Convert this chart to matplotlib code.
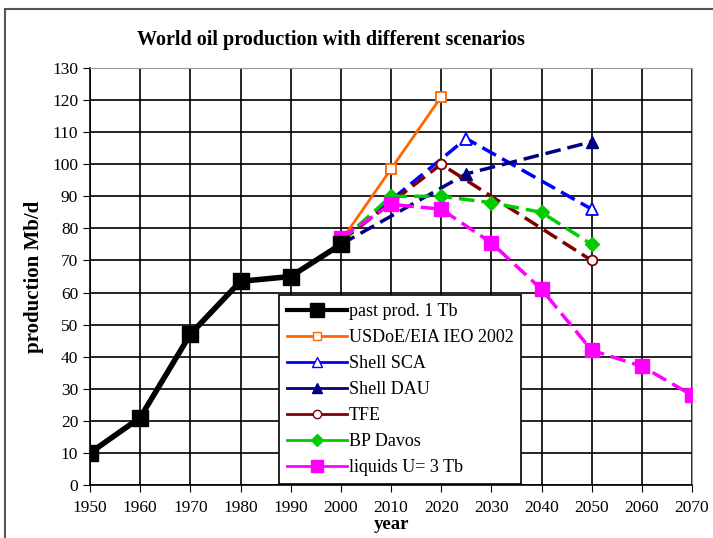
import matplotlib.pyplot as plt
from matplotlib.lines import Line2D
from matplotlib.patches import Rectangle

# datos
past_years = [1950, 1960, 1970, 1980, 1990, 2000]
past_prod = [10, 21, 47, 63.5, 65, 75]

usdoe_years = [2000, 2010, 2020]
usdoe_prod = [76, 98.5, 121]

sca_years = [2000, 2025, 2050]
sca_prod = [76, 108, 86]

dau_years = [2000, 2025, 2050]
dau_prod = [75, 97, 107]

tfe_years = [2000, 2020, 2050]
tfe_prod = [76, 100, 70]

bp_years = [2000, 2010, 2020, 2030, 2040, 2050]
bp_prod = [76, 90, 90, 88, 85, 75]

liq_years = [2000, 2010, 2020, 2030, 2040, 2050, 2060, 2070]
liq_prod = [77, 87.5, 86, 75.5, 61, 42, 37, 28]

plt.rcParams['font.family'] = 'Liberation Serif'

fig = plt.figure(figsize=(7.13, 5.38), dpi=100)
ax = fig.add_axes([90 / 713, 1 - 485 / 538, 602 / 713, 417 / 538])

# marco exterior gris
fig.patches.append(Rectangle((5 / 713, -0.1), 1.2, 1 - 9 / 538 + 0.1,
                             transform=fig.transFigure, fill=False,
                             edgecolor='#555555', linewidth=1.5))

dash = (4.5, 2)
ax.plot(past_years, past_prod, color='black', lw=4, marker='s', ms=11, zorder=5)
ax.plot(usdoe_years, usdoe_prod, color='#FF6600', lw=2, marker='s', ms=7,
        mfc='white', mec='#FF6600', mew=1.3, zorder=4)
ax.plot(sca_years, sca_prod, color='#0000FF', lw=2.5, dashes=dash, marker='^',
        ms=9, mfc='white', mec='#0000FF', mew=1.3, zorder=4)
ax.plot(dau_years, dau_prod, color='#000080', lw=2.5, dashes=dash, marker='^',
        ms=8, zorder=4)
ax.plot(tfe_years, tfe_prod, color='#800000', lw=2.5, dashes=dash, marker='o',
        ms=7, mfc='white', mec='#800000', mew=1.3, zorder=4)
ax.plot(bp_years, bp_prod, color='#00CC00', lw=2.5, dashes=dash, marker='D',
        ms=7, zorder=4)
ax.plot(liq_years, liq_prod, color='#FF00FF', lw=2.5, dashes=dash, marker='s',
        ms=10, zorder=4)

ax.set_xlim(1950, 2070)
ax.set_ylim(0, 130)
ax.set_xticks(range(1950, 2071, 10))
ax.set_yticks(range(0, 131, 10))
ax.grid(True, color='black', lw=1.2)
ax.set_axisbelow(True)
for s in ['top', 'right']:
    ax.spines[s].set_color('#999999')
ax.spines['left'].set_linewidth(1.2)
ax.spines['bottom'].set_linewidth(1.2)
ax.tick_params(axis='both', labelsize=12.5, length=5, colors='black')
ax.tick_params(axis='x', direction='out', pad=6)

ax.set_title('World oil production with different scenarios', fontsize=14.5,
             fontweight='bold', x=0.4, y=1.035, loc='center')
ax.set_xlabel('year', fontsize=13.5, fontweight='bold', labelpad=0)
ax.set_ylabel('production Mb/d', fontsize=15, fontweight='bold', labelpad=6)

handles = [
    Line2D([], [], color='black', lw=3, marker='s', ms=10),
    Line2D([], [], color='#FF6600', lw=2, marker='s', ms=6, mfc='white'),
    Line2D([], [], color='#0000FF', lw=2, marker='^', ms=7, mfc='white'),
    Line2D([], [], color='#000080', lw=2, marker='^', ms=7),
    Line2D([], [], color='#800000', lw=2, marker='o', ms=6, mfc='white'),
    Line2D([], [], color='#00CC00', lw=2, marker='D', ms=6),
    Line2D([], [], color='#FF00FF', lw=2, marker='s', ms=8),
]
labels = ['past prod. 1 Tb', 'USDoE/EIA IEO 2002', 'Shell SCA', 'Shell DAU',
          'TFE', 'BP Davos', 'liquids U= 3 Tb']
leg = ax.legend(handles, labels, loc='lower left', bbox_to_anchor=(0.314, 0.002),
                fontsize=13, fancybox=False, framealpha=1, edgecolor='black',
                labelspacing=0.5, handlelength=3.3, handletextpad=0.1,
                borderpad=0.45, borderaxespad=0)
leg.get_frame().set_linewidth(1.2)
leg.set_zorder(10)

fig.savefig('out.png', dpi=100)
